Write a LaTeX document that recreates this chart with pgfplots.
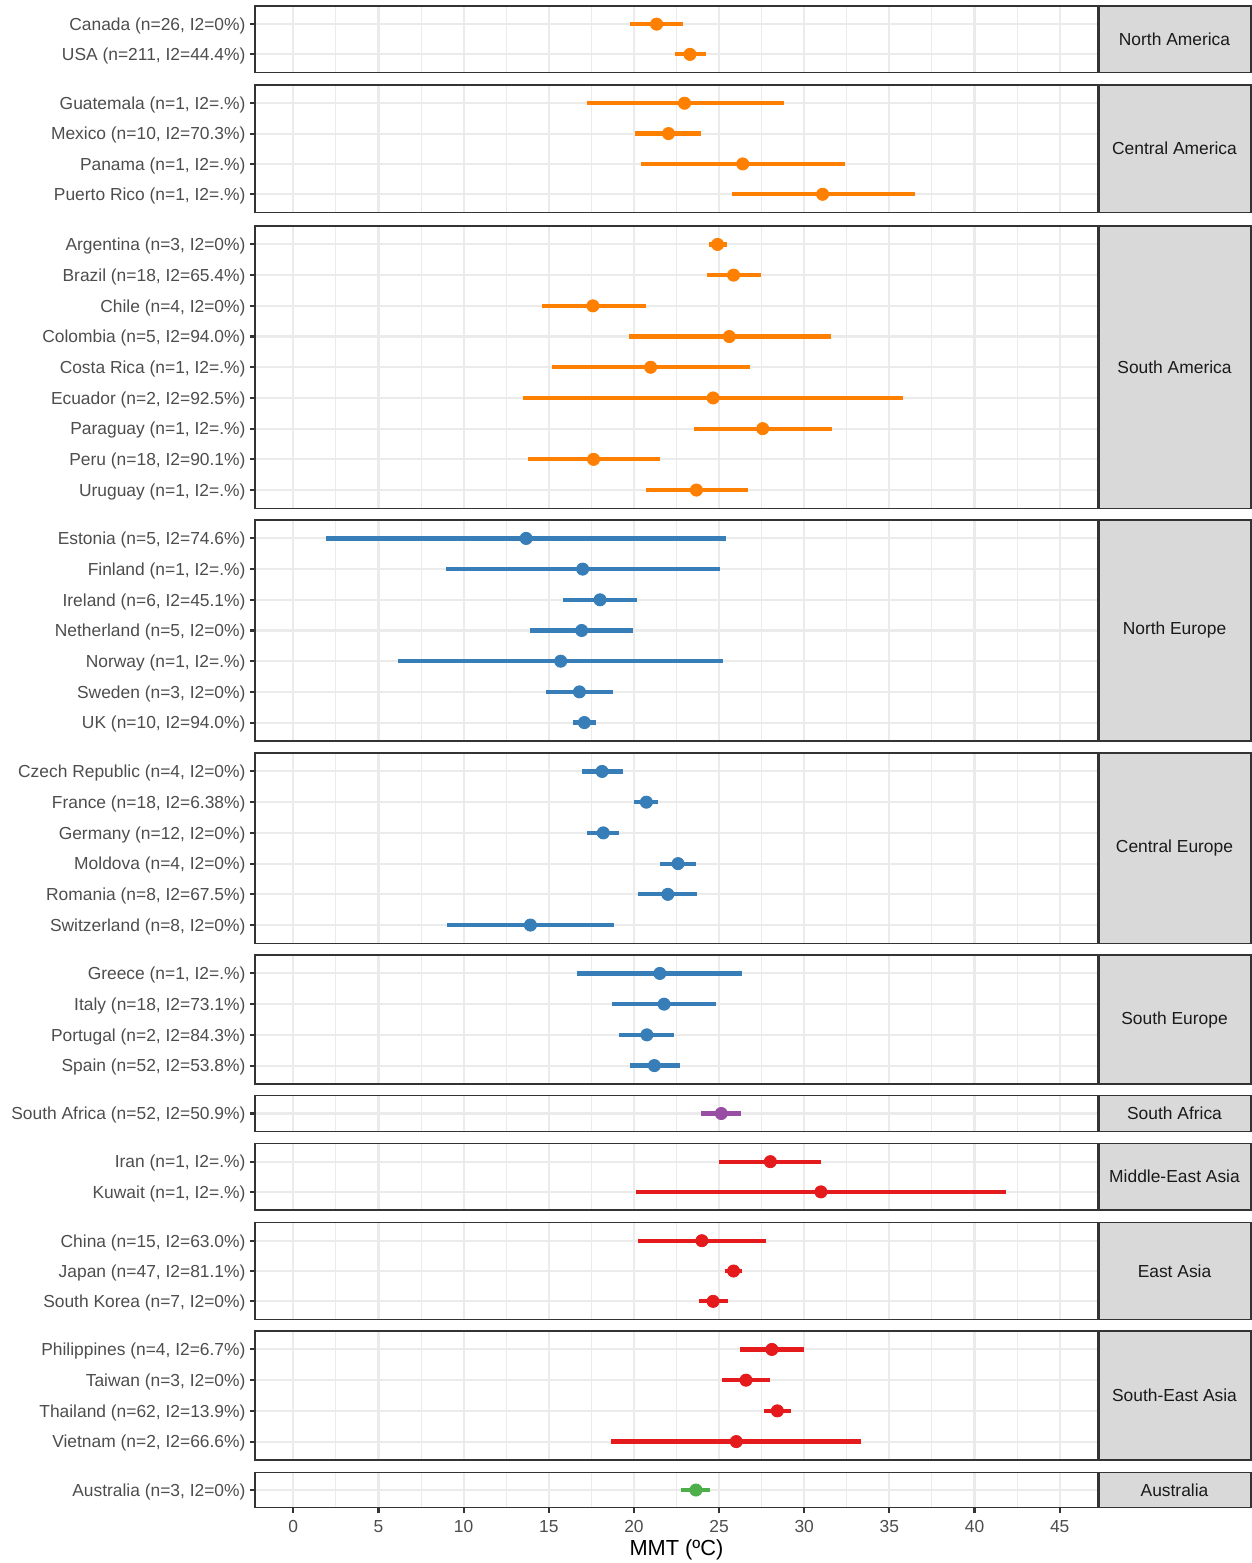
\documentclass[border=0pt]{standalone}
\usepackage{pgfplots}
\pgfplotsset{compat=1.18}
\usepackage{pgfplotstable}
\usepackage{fontspec}
\setmainfont{Liberation Sans}
\definecolor{grey10}{HTML}{1A1A1A}
\definecolor{grey20}{HTML}{333333}
\definecolor{grey30}{HTML}{4D4D4D}
\definecolor{grey85}{HTML}{D9D9D9}
\definecolor{grey92}{HTML}{EBEBEB}
\definecolor{cOr}{HTML}{FF7F00}
\definecolor{cBl}{HTML}{377EB8}
\definecolor{cPu}{HTML}{984EA3}
\definecolor{cRe}{HTML}{E41A1C}
\definecolor{cGr}{HTML}{4DAF4A}
\newcommand{\tickfont}{\fontsize{8.7}{10}\selectfont}

\pgfplotstableread{
row est lo hi
1 21.33 19.78 22.88
2 23.29 22.44 24.21
}\dNA
\pgfplotstableread{
row est lo hi
1 22.97 17.25 28.80
2 22.03 20.09 23.96
3 26.39 20.44 32.37
4 31.08 25.73 36.49
}\dCA
\pgfplotstableread{
row est lo hi
1 24.91 24.40 25.44
2 25.85 24.30 27.47
3 17.59 14.59 20.70
4 25.60 19.72 31.55
5 20.98 15.16 26.84
6 24.65 13.51 35.82
7 27.56 23.54 31.65
8 17.63 13.77 21.52
9 23.67 20.70 26.71
}\dSA
\pgfplotstableread{
row est lo hi
1 13.67 1.93 25.41
2 16.99 8.96 25.03
3 18.01 15.85 20.16
4 16.93 13.89 19.97
5 15.70 6.17 25.22
6 16.80 14.81 18.80
7 17.09 16.42 17.78
}\dNE
\pgfplotstableread{
row est lo hi
1 18.13 16.93 19.34
2 20.73 20.00 21.42
3 18.20 17.25 19.11
4 22.59 21.52 23.64
5 21.99 20.22 23.73
6 13.92 9.05 18.83
}\dCE
\pgfplotstableread{
row est lo hi
1 21.52 16.65 26.36
2 21.77 18.70 24.81
3 20.76 19.11 22.37
4 21.20 19.75 22.72
}\dSE
\pgfplotstableread{
row est lo hi
1 25.13 23.96 26.27
}\dSAf
\pgfplotstableread{
row est lo hi
1 28.01 25.00 31.01
2 30.98 20.13 41.87
}\dME
\pgfplotstableread{
row est lo hi
1 23.99 20.25 27.75
2 25.85 25.35 26.36
3 24.65 23.83 25.54
}\dEA
\pgfplotstableread{
row est lo hi
1 28.10 26.20 30.00
2 26.58 25.16 28.01
3 28.42 27.66 29.21
4 26.01 18.67 33.32
}\dSEA
\pgfplotstableread{
row est lo hi
1 23.64 22.78 24.49
}\dAU

\pgfplotsset{
  panel/.style={
    scale only axis, width=421.5pt, anchor=north west,
    xmin=-2.25, xmax=47.25, y dir=reverse, ymin=0.4,
    xtick={0,5,...,45}, minor xtick={2.5,7.5,...,42.5},
    xmajorgrids=true, xminorgrids=true, ymajorgrids=true,
    major grid style={grey92, line width=1.05pt},
    minor grid style={grey92, line width=0.53pt},
    axis line style={grey20, line width=0.6pt},
    tick align=outside, tick pos=left,
    major tick length=2.75pt, minor tick length=0pt,
    tick style={grey20, line width=1.05pt},
    yticklabel style={font=\tickfont, text=grey30, xshift=1.5pt, yshift=-0.9pt},
    xticklabel style={font=\tickfont, text=grey30},
    /pgf/number format/assume math mode=true,
  },
  inner/.style={xticklabels={}, xmajorticks=false},
  ci/.style={only marks, mark=*, mark size=3.05pt, color=#1,
    error bars/.cd, x dir=both, x explicit, error mark=none,
    error bar style={line width=2.1pt, draw=#1, solid}},
}
\tikzset{
  strip/.style={draw=grey20, fill=grey85, line width=0.6pt},
  striptext/.style={font=\tickfont, text=grey10},
}

\begin{document}
\begin{tikzpicture}
\useasboundingbox (0,0) rectangle (626pt,-781.5pt);

\begin{axis}[panel, inner, name=na, at={(127.5pt,-3pt)}, height=33.25pt, ymax=2.6,
  ytick={1,2}, yticklabels={{Canada (n=26, I2=0\%)},{USA (n=211, I2=44.4\%)}}]
\addplot[ci=cOr] table[x=est, y=row, x error plus expr=\thisrow{hi}-\thisrow{est}, x error minus expr=\thisrow{est}-\thisrow{lo}] {\dNA};
\end{axis}
\draw[strip] ([xshift=0.6pt]na.north east) rectangle ([xshift=76.5pt]na.south east);
\node[striptext] at ([xshift=38.25pt]na.east) {North America};

\begin{axis}[panel, inner, name=ca, at={(127.5pt,-42.5pt)}, height=63.75pt, ymax=4.6,
  ytick={1,...,4}, yticklabels={{Guatemala (n=1, I2=.\%)},{Mexico (n=10, I2=70.3\%)},{Panama (n=1, I2=.\%)},{Puerto Rico (n=1, I2=.\%)}}]
\addplot[ci=cOr] table[x=est, y=row, x error plus expr=\thisrow{hi}-\thisrow{est}, x error minus expr=\thisrow{est}-\thisrow{lo}] {\dCA};
\end{axis}
\draw[strip] ([xshift=0.6pt]ca.north east) rectangle ([xshift=76.5pt]ca.south east);
\node[striptext] at ([xshift=38.25pt]ca.east) {Central America};

\begin{axis}[panel, inner, name=sa, at={(127.5pt,-113pt)}, height=141.25pt, ymax=9.6,
  ytick={1,...,9}, yticklabels={{Argentina (n=3, I2=0\%)},{Brazil (n=18, I2=65.4\%)},{Chile (n=4, I2=0\%)},{Colombia (n=5, I2=94.0\%)},{Costa Rica (n=1, I2=.\%)},{Ecuador (n=2, I2=92.5\%)},{Paraguay (n=1, I2=.\%)},{Peru (n=18, I2=90.1\%)},{Uruguay (n=1, I2=.\%)}}]
\addplot[ci=cOr] table[x=est, y=row, x error plus expr=\thisrow{hi}-\thisrow{est}, x error minus expr=\thisrow{est}-\thisrow{lo}] {\dSA};
\end{axis}
\draw[strip] ([xshift=0.6pt]sa.north east) rectangle ([xshift=76.5pt]sa.south east);
\node[striptext] at ([xshift=38.25pt]sa.east) {South America};

\begin{axis}[panel, inner, name=ne, at={(127.5pt,-260pt)}, height=110.5pt, ymax=7.6,
  ytick={1,...,7}, yticklabels={{Estonia (n=5, I2=74.6\%)},{Finland (n=1, I2=.\%)},{Ireland (n=6, I2=45.1\%)},{Netherland (n=5, I2=0\%)},{Norway (n=1, I2=.\%)},{Sweden (n=3, I2=0\%)},{UK (n=10, I2=94.0\%)}}]
\addplot[ci=cBl] table[x=est, y=row, x error plus expr=\thisrow{hi}-\thisrow{est}, x error minus expr=\thisrow{est}-\thisrow{lo}] {\dNE};
\end{axis}
\draw[strip] ([xshift=0.6pt]ne.north east) rectangle ([xshift=76.5pt]ne.south east);
\node[striptext] at ([xshift=38.25pt]ne.east) {North Europe};

\begin{axis}[panel, inner, name=ce, at={(127.5pt,-376.5pt)}, height=95.25pt, ymax=6.6,
  ytick={1,...,6}, yticklabels={{Czech Republic (n=4, I2=0\%)},{France (n=18, I2=6.38\%)},{Germany (n=12, I2=0\%)},{Moldova (n=4, I2=0\%)},{Romania (n=8, I2=67.5\%)},{Switzerland (n=8, I2=0\%)}}]
\addplot[ci=cBl] table[x=est, y=row, x error plus expr=\thisrow{hi}-\thisrow{est}, x error minus expr=\thisrow{est}-\thisrow{lo}] {\dCE};
\end{axis}
\draw[strip] ([xshift=0.6pt]ce.north east) rectangle ([xshift=76.5pt]ce.south east);
\node[striptext] at ([xshift=38.25pt]ce.east) {Central Europe};

\begin{axis}[panel, inner, name=se, at={(127.5pt,-477.5pt)}, height=64.5pt, ymax=4.6,
  ytick={1,...,4}, yticklabels={{Greece (n=1, I2=.\%)},{Italy (n=18, I2=73.1\%)},{Portugal (n=2, I2=84.3\%)},{Spain (n=52, I2=53.8\%)}}]
\addplot[ci=cBl] table[x=est, y=row, x error plus expr=\thisrow{hi}-\thisrow{est}, x error minus expr=\thisrow{est}-\thisrow{lo}] {\dSE};
\end{axis}
\draw[strip] ([xshift=0.6pt]se.north east) rectangle ([xshift=76.5pt]se.south east);
\node[striptext] at ([xshift=38.25pt]se.east) {South Europe};

\begin{axis}[panel, inner, name=saf, at={(127.5pt,-547.75pt)}, height=18pt, ymax=1.6,
  ytick={1}, yticklabels={{South Africa (n=52, I2=50.9\%)},{}}]
\addplot[ci=cPu] table[x=est, y=row, x error plus expr=\thisrow{hi}-\thisrow{est}, x error minus expr=\thisrow{est}-\thisrow{lo}] {\dSAf};
\end{axis}
\draw[strip] ([xshift=0.6pt]saf.north east) rectangle ([xshift=76.5pt]saf.south east);
\node[striptext] at ([xshift=38.25pt]saf.east) {South Africa};

\begin{axis}[panel, inner, name=me, at={(127.5pt,-571.75pt)}, height=33.25pt, ymax=2.6,
  ytick={1,2}, yticklabels={{Iran (n=1, I2=.\%)},{Kuwait (n=1, I2=.\%)}}]
\addplot[ci=cRe] table[x=est, y=row, x error plus expr=\thisrow{hi}-\thisrow{est}, x error minus expr=\thisrow{est}-\thisrow{lo}] {\dME};
\end{axis}
\draw[strip] ([xshift=0.6pt]me.north east) rectangle ([xshift=76.5pt]me.south east);
\node[striptext] at ([xshift=38.25pt]me.east) {Middle-East Asia};

\begin{axis}[panel, inner, name=ea, at={(127.5pt,-611.25pt)}, height=48.5pt, ymax=3.6,
  ytick={1,2,3}, yticklabels={{China (n=15, I2=63.0\%)},{Japan (n=47, I2=81.1\%)},{South Korea (n=7, I2=0\%)}}]
\addplot[ci=cRe] table[x=est, y=row, x error plus expr=\thisrow{hi}-\thisrow{est}, x error minus expr=\thisrow{est}-\thisrow{lo}] {\dEA};
\end{axis}
\draw[strip] ([xshift=0.6pt]ea.north east) rectangle ([xshift=76.5pt]ea.south east);
\node[striptext] at ([xshift=38.25pt]ea.east) {East Asia};

\begin{axis}[panel, inner, name=sea, at={(127.5pt,-665.5pt)}, height=64.5pt, ymax=4.6,
  ytick={1,...,4}, yticklabels={{Philippines (n=4, I2=6.7\%)},{Taiwan (n=3, I2=0\%)},{Thailand (n=62, I2=13.9\%)},{Vietnam (n=2, I2=66.6\%)}}]
\addplot[ci=cRe] table[x=est, y=row, x error plus expr=\thisrow{hi}-\thisrow{est}, x error minus expr=\thisrow{est}-\thisrow{lo}] {\dSEA};
\end{axis}
\draw[strip] ([xshift=0.6pt]sea.north east) rectangle ([xshift=76.5pt]sea.south east);
\node[striptext] at ([xshift=38.25pt]sea.east) {South-East Asia};

\begin{axis}[panel, name=au, at={(127.5pt,-736.25pt)}, height=17.5pt, ymax=1.6,
  ytick={1}, yticklabels={{Australia (n=3, I2=0\%)},{}},
  xlabel={MMT (ºC)}, xlabel style={font=\fontsize{10.9}{12}\selectfont, text=black,
    at={(axis description cs:0.5,0)}, anchor=base, yshift=-24.15pt}]
\addplot[ci=cGr] table[x=est, y=row, x error plus expr=\thisrow{hi}-\thisrow{est}, x error minus expr=\thisrow{est}-\thisrow{lo}] {\dAU};
\end{axis}
\draw[strip] ([xshift=0.6pt]au.north east) rectangle ([xshift=76.5pt]au.south east);
\node[striptext] at ([xshift=38.25pt]au.east) {Australia};
\end{tikzpicture}
\end{document}
